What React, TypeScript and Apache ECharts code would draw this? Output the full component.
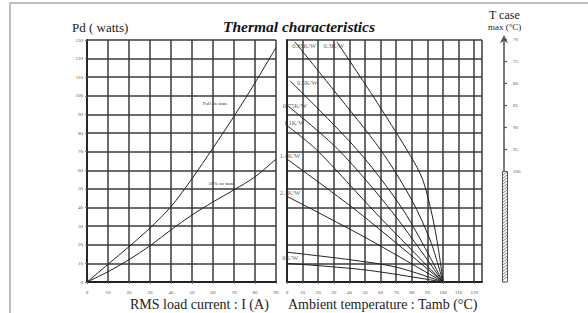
import React, { useEffect, useRef } from "react";
import * as echarts from "echarts";

const FONT = "'Liberation Serif', 'Times New Roman', serif";

// Left plot: power dissipation vs RMS load current
const currentX = [0, 10, 20, 30, 40, 50, 60, 70, 80, 90];
const fullOnState = [0, 9.5, 19, 29, 40.5, 55.5, 72, 89, 107, 126];
const halfOnState = [0, 5.5, 12, 19.5, 28, 36, 43, 49.5, 56.5, 66];

// Right plot: power dissipation vs ambient temperature for several thermal resistances
const rthNames = ["0.35K/W", "0.3K/W", "0.5K/W", "0.75K/W", "1.1K/W", "1.4K/W", "2.1K/W", "", "6K/W"];
const rthTamb = [
  [5, 30, 60, 80, 92, 100],
  [32, 55, 79, 87, 93, 97, 100],
  [2, 45, 75, 100],
  [0, 33, 68, 100],
  [0, 19, 57, 100],
  [0, 45, 100],
  [0, 50, 100],
  [0, 40, 70, 100],
  [0, 50, 100],
];
const rthPd = [
  [129, 103, 71, 44, 22, 0],
  [129, 100, 68, 55, 36, 18, 0],
  [108, 71, 38, 0],
  [95, 71, 37, 0],
  [84, 71, 37, 0],
  [66, 38, 0],
  [46, 24, 0],
  [16, 12, 8, 0],
  [10, 6.5, 0],
];
const rthLabelTamb = [11, 30, 13, 5, 4.5, 2, 2, 0, 2];
const rthLabelPd = [127, 127, 107, 95, 85.5, 68, 48, 0, 13];

// T case max scale
const tcaseTickValues = [70, 75, 80, 85, 90, 95];
const tcaseLabelValues = [70, 75, 80, 85, 90, 95, 100];
const tcaseLimit = [100, 125];

export default function App() {
  const ref = useRef<HTMLDivElement>(null);
  useEffect(() => {
    if (!ref.current) return;
    const chart = echarts.init(ref.current, undefined, { renderer: "svg" });

    const gridLine = { show: true, lineStyle: { color: "#3a3a3a", width: 1.5 } };
    const tinyLabel = { fontSize: 5, color: "#555", fontFamily: FONT };

    const rthSeries: any[] = rthTamb.map((xs, i) => ({
      type: "line",
      name: rthNames[i] || "curve" + i,
      xAxisIndex: 1,
      yAxisIndex: 1,
      data: xs.map((x, j) => [x, rthPd[i][j]]),
      smooth: 0.3,
      symbol: "none",
      itemStyle: { color: "#222" },
      lineStyle: { color: "#222", width: 1 },
      z: 3,
    }));

    const labelData = rthNames
      .map((n, i) => ({ name: n, value: [rthLabelTamb[i], rthLabelPd[i]] }))
      .filter((d) => d.name !== "");

    const option: any = {
      animation: false,
      backgroundColor: "#fff",
      color: ["#222"],
      textStyle: { fontFamily: FONT },
      title: {
        text: "Thermal characteristics",
        left: 218,
        top: 13,
        textStyle: { fontFamily: FONT, fontSize: 15.5, fontWeight: "bold", fontStyle: "italic", color: "#111" },
      },
      graphic: [
        { type: "rect", shape: { x: 10, y: 3, width: 600, height: 330 }, style: { fill: "none", stroke: "#aaa", lineWidth: 1.5 }, z: -10 },
        { type: "text", left: 72, top: 21, style: { text: "Pd ( watts)", font: `13px ${FONT}`, fill: "#222" } },
        { type: "text", left: 130, top: 297, style: { text: "RMS load current : I (A)", font: `14px ${FONT}`, fill: "#222" } },
        { type: "text", left: 288, top: 297, style: { text: "Ambient temperature : Tamb (°C)", font: `14px ${FONT}`, fill: "#222" } },
        { type: "text", left: 489, top: 9, style: { text: "T case", font: `12px ${FONT}`, fill: "#222" } },
        { type: "text", left: 488, top: 22, style: { text: "max (°C)", font: `9px ${FONT}`, fill: "#222" } },
      ],
      grid: [
        { left: 87, top: 40, width: 189, height: 242 },
        { left: 287, top: 40, width: 195, height: 242 },
        { left: 504, top: 39, width: 1, height: 243 },
      ],
      xAxis: [
        {
          gridIndex: 0, type: "value", min: 0, max: 90, interval: 10,
          axisLine: { lineStyle: { color: "#222", width: 1.8 } },
          axisTick: { show: true, length: 2, lineStyle: { color: "#777" } },
          axisLabel: { ...tinyLabel, margin: 8 },
          splitLine: gridLine,
        },
        {
          gridIndex: 1, type: "value", min: 0, max: 125, interval: 10,
          axisLine: { lineStyle: { color: "#222", width: 1.8 } },
          axisTick: { show: true, length: 2, lineStyle: { color: "#777" } },
          axisLabel: { ...tinyLabel, margin: 8, showMaxLabel: false },
          splitLine: gridLine,
        },
        { gridIndex: 2, type: "value", min: 0, max: 1, show: false },
      ],
      yAxis: [
        {
          gridIndex: 0, type: "value", min: 0, max: 130, interval: 10,
          axisLine: { show: true, lineStyle: { color: "#222", width: 1.8 } },
          axisTick: { show: true, length: 2, lineStyle: { color: "#777" } },
          axisLabel: { ...tinyLabel, margin: 4 },
          splitLine: gridLine,
        },
        {
          gridIndex: 1, type: "value", min: 0, max: 130, interval: 10,
          axisLine: { show: true, lineStyle: { color: "#222", width: 1.8 } },
          axisTick: { show: false },
          axisLabel: { show: false },
          splitLine: gridLine,
        },
        {
          gridIndex: 2, type: "value", min: 70, max: 125, inverse: true, position: "right",
          axisLine: {
            show: true, symbol: ["none", "arrow"], symbolSize: [6, 8], symbolOffset: [0, 4],
            lineStyle: { color: "#555", width: 1.5 },
          },
          axisTick: { show: true, customValues: tcaseTickValues, length: 3, lineStyle: { color: "#555", width: 1.2 } },
          axisLabel: { ...tinyLabel, customValues: tcaseLabelValues, margin: 8 },
          splitLine: { show: false },
        },
      ],
      series: [
        {
          type: "line", name: "Full on state", xAxisIndex: 0, yAxisIndex: 0,
          data: currentX.map((x, i) => [x, fullOnState[i]]),
          smooth: 0.3, symbol: "none", itemStyle: { color: "#222" }, lineStyle: { color: "#222", width: 1 }, z: 3,
          markPoint: {
            symbolSize: 0,
            itemStyle: { color: "#fff" },
            data: [{ coord: [61, 96], value: 0 }],
            label: { show: true, position: "inside", formatter: "Full on state", fontSize: 5, color: "#333", fontFamily: FONT },
          },
        },
        {
          type: "line", name: "50% on state", xAxisIndex: 0, yAxisIndex: 0,
          data: currentX.map((x, i) => [x, halfOnState[i]]),
          smooth: 0.3, symbol: "none", itemStyle: { color: "#222" }, lineStyle: { color: "#222", width: 1 }, z: 3,
          markPoint: {
            symbolSize: 0,
            itemStyle: { color: "#fff" },
            data: [{ coord: [64, 53], value: 0 }],
            label: { show: true, position: "inside", formatter: "50% on state", fontSize: 5, color: "#333", fontFamily: FONT },
          },
        },
        ...rthSeries,
        {
          type: "scatter", name: "labels", xAxisIndex: 1, yAxisIndex: 1,
          data: labelData, symbolSize: 0, z: 5, itemStyle: { color: "#fff" },
          label: { show: true, formatter: "{b}", position: "inside", fontSize: 6.5, color: "#333", fontFamily: FONT },
        },
        {
          type: "custom", name: "tcase limit", xAxisIndex: 2, yAxisIndex: 2, z: 6,
          data: [[1, tcaseLimit[0], tcaseLimit[1]]],
          renderItem: (params: any, api: any) => {
            const p0 = api.coord([api.value(0), api.value(1)]);
            const p1 = api.coord([api.value(0), api.value(2)]);
            const x = p0[0] - 2.5;
            const w = 5;
            const yTop = Math.min(p0[1], p1[1]);
            const yBot = Math.max(p0[1], p1[1]);
            const children: any[] = [
              { type: "rect", shape: { x, y: yTop, width: w, height: yBot - yTop }, style: { fill: "#fff", stroke: "#555", lineWidth: 1 } },
            ];
            for (let y = yTop + 4; y <= yBot; y += 3) {
              children.push({ type: "line", shape: { x1: x, y1: y, x2: x + w, y2: y - 4 }, style: { stroke: "#666", lineWidth: 0.8 } });
            }
            return { type: "group", children };
          },
        },
      ],
    };
    chart.setOption(option);
    return () => chart.dispose();
  }, []);
  return <div ref={ref} style={{ position: "fixed", left: 0, top: 0, width: 588, height: 313 }} />;
}
